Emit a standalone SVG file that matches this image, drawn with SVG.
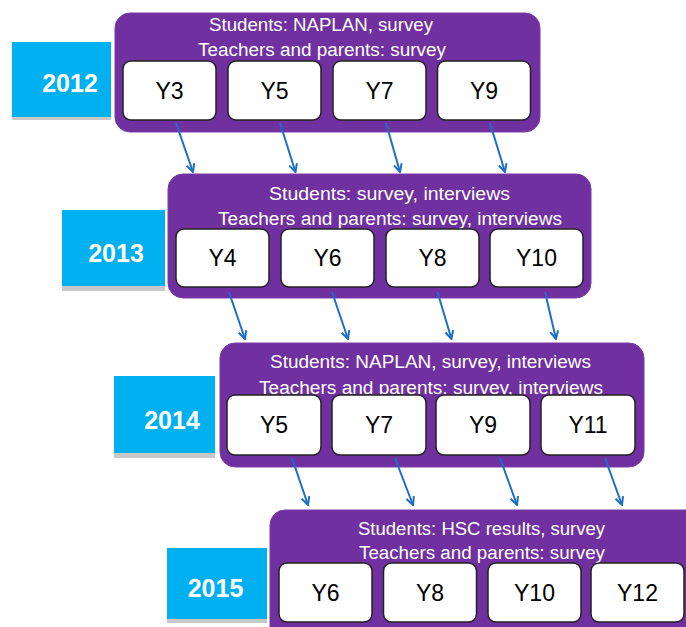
<svg xmlns="http://www.w3.org/2000/svg" width="686" height="627" viewBox="0 0 686 627">
<defs>
<style>
.panel{fill:#7030a0;stroke:#7a3aa8;stroke-width:1}
.yr{fill:#00b0f0}
.shadow{fill:#c8c8c8}
.yrt{font-family:"Liberation Sans",Arial,sans-serif;font-weight:bold;font-size:25px;fill:#fff;text-anchor:middle}
.lab{font-family:"Liberation Sans",Arial,sans-serif;font-size:18px;fill:#fff;text-anchor:middle}
.box{fill:#fff;stroke:#222;stroke-width:1.5}
.bt{font-family:"Liberation Sans",Arial,sans-serif;font-size:23px;fill:#000;text-anchor:middle}
.arr{stroke:#1c6fc6;stroke-width:2;fill:none;marker-end:url(#ah)}
</style>
<marker id="ah" viewBox="0 0 10 10" refX="9" refY="5" markerWidth="5" markerHeight="5" orient="auto" markerUnits="strokeWidth">
<path d="M1,1 L9,5 L1,9" fill="none" stroke="#1c6fc6" stroke-width="2"/>
</marker>
</defs>
<rect width="686" height="627" fill="#fff"/>

<g id="y2012">
<rect class="shadow" x="12" y="45" width="99" height="75"/>
<rect class="yr" x="12" y="42" width="99" height="75"/>
<text class="yrt" x="70" y="92">2012</text>
<rect class="panel" x="115" y="13" width="425" height="119" rx="15"/>
<text class="lab" x="321" y="31" textLength="224" lengthAdjust="spacingAndGlyphs">Students: NAPLAN, survey</text>
<text class="lab" x="322" y="56" textLength="248" lengthAdjust="spacingAndGlyphs">Teachers and parents: survey</text>
<g id="n2012-y3"><rect class="box" x="123" y="61" width="93" height="59" rx="8"/><text class="bt" x="169.5" y="99">Y3</text></g>
<g id="n2012-y5"><rect class="box" x="228" y="61" width="93" height="59" rx="8"/><text class="bt" x="274.5" y="99">Y5</text></g>
<g id="n2012-y7"><rect class="box" x="333" y="61" width="93" height="59" rx="8"/><text class="bt" x="379.5" y="99">Y7</text></g>
<g id="n2012-y9"><rect class="box" x="437.5" y="61" width="93" height="59" rx="8"/><text class="bt" x="484" y="99">Y9</text></g>
</g>

<g id="y2013">
<rect class="shadow" x="62" y="213" width="103" height="78"/>
<rect class="yr" x="62" y="210" width="103" height="76"/>
<text class="yrt" x="116" y="262">2013</text>
<rect class="panel" x="168" y="174" width="423" height="124" rx="15"/>
<text class="lab" x="389.5" y="200" textLength="241" lengthAdjust="spacingAndGlyphs">Students: survey, interviews</text>
<text class="lab" x="390" y="225" textLength="344" lengthAdjust="spacingAndGlyphs">Teachers and parents: survey, interviews</text>
<g id="n2013-y4"><rect class="box" x="176" y="229" width="93" height="58" rx="8"/><text class="bt" x="222.5" y="266">Y4</text></g>
<g id="n2013-y6"><rect class="box" x="281" y="229" width="93" height="58" rx="8"/><text class="bt" x="327.5" y="266">Y6</text></g>
<g id="n2013-y8"><rect class="box" x="386" y="229" width="93" height="58" rx="8"/><text class="bt" x="432.5" y="266">Y8</text></g>
<g id="n2013-y10"><rect class="box" x="490" y="229" width="93" height="58" rx="8"/><text class="bt" x="536.5" y="266">Y10</text></g>
</g>

<g id="y2014">
<rect class="shadow" x="114" y="379" width="101" height="79"/>
<rect class="yr" x="114" y="376" width="101" height="77"/>
<text class="yrt" x="172" y="429">2014</text>
<rect class="panel" x="220" y="343" width="424" height="124" rx="15"/>
<text class="lab" x="430.5" y="368" textLength="321" lengthAdjust="spacingAndGlyphs">Students: NAPLAN, survey, interviews</text>
<text class="lab" x="431" y="394" textLength="344" lengthAdjust="spacingAndGlyphs">Teachers and parents: survey, interviews</text>
<g id="n2014-y5"><rect class="box" x="227" y="395" width="94" height="60" rx="8"/><text class="bt" x="274" y="433">Y5</text></g>
<g id="n2014-y7"><rect class="box" x="332" y="395" width="94" height="60" rx="8"/><text class="bt" x="379" y="433">Y7</text></g>
<g id="n2014-y9"><rect class="box" x="436" y="395" width="94" height="60" rx="8"/><text class="bt" x="483" y="433">Y9</text></g>
<g id="n2014-y11"><rect class="box" x="541" y="395" width="94" height="60" rx="8"/><text class="bt" x="588" y="433">Y11</text></g>
</g>

<g id="y2015">
<rect class="shadow" x="167" y="551" width="100" height="72"/>
<rect class="yr" x="167" y="548" width="100" height="71"/>
<text class="yrt" x="215.5" y="597">2015</text>
<rect class="panel" x="270" y="510" width="440" height="140" rx="15"/>
<text class="lab" x="481.5" y="535" textLength="247" lengthAdjust="spacingAndGlyphs">Students: HSC results, survey</text>
<text class="lab" x="482" y="559" textLength="246" lengthAdjust="spacingAndGlyphs">Teachers and parents: survey</text>
<g id="n2015-y6"><rect class="box" x="279" y="563" width="93" height="59" rx="8"/><text class="bt" x="325.5" y="601">Y6</text></g>
<g id="n2015-y8"><rect class="box" x="383.5" y="563" width="93" height="59" rx="8"/><text class="bt" x="430" y="601">Y8</text></g>
<g id="n2015-y10"><rect class="box" x="488" y="563" width="93" height="59" rx="8"/><text class="bt" x="534.5" y="601">Y10</text></g>
<g id="n2015-y12"><rect class="box" x="591" y="563" width="93" height="59" rx="8"/><text class="bt" x="637.5" y="601">Y12</text></g>
</g>

<g id="connectors">
<line class="arr" x1="176" y1="123" x2="193" y2="172"/>
<line class="arr" x1="280" y1="123" x2="295.5" y2="172"/>
<line class="arr" x1="386" y1="123" x2="400" y2="172"/>
<line class="arr" x1="490" y1="123" x2="505" y2="172"/>
<line class="arr" x1="229" y1="292" x2="245" y2="339"/>
<line class="arr" x1="332" y1="292" x2="348" y2="339"/>
<line class="arr" x1="437.5" y1="292" x2="451.5" y2="339"/>
<line class="arr" x1="545" y1="292" x2="556" y2="339"/>
<line class="arr" x1="292" y1="458" x2="308" y2="505"/>
<line class="arr" x1="395" y1="458" x2="413" y2="505"/>
<line class="arr" x1="500" y1="458" x2="517" y2="505"/>
<line class="arr" x1="605" y1="458" x2="622" y2="505"/>
</g>
</svg>
